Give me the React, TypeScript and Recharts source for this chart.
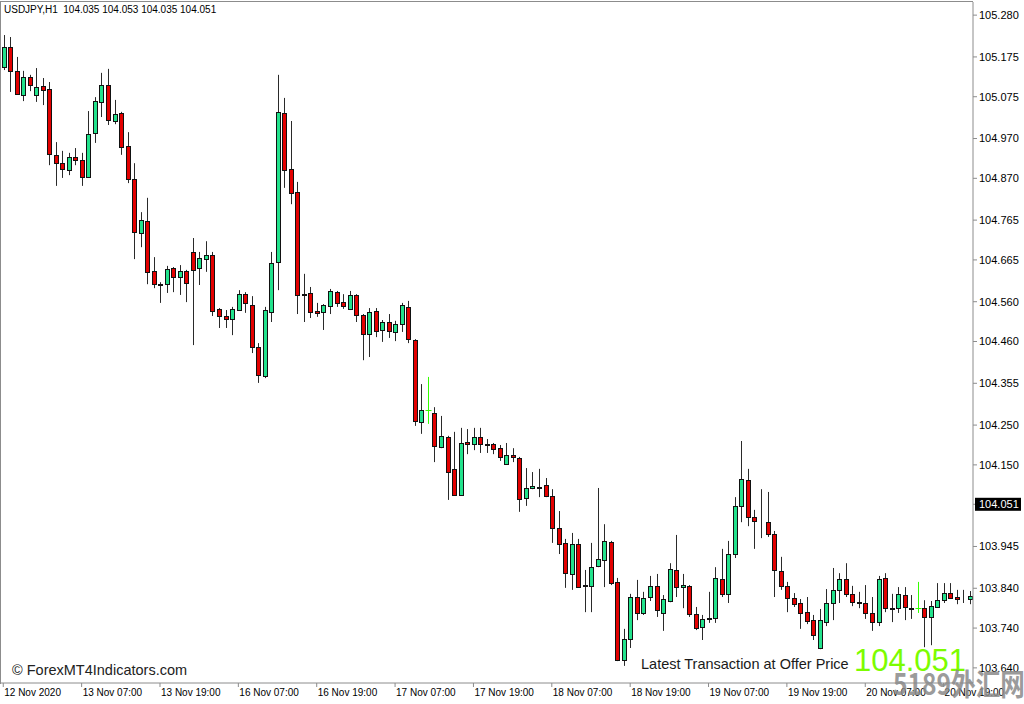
import React from 'react';
import { ComposedChart, Bar, XAxis, YAxis } from 'recharts';

// USDJPY H1, one entry per candle, left to right
const opens = [
  105.150, 105.200, 105.140, 105.079, 105.125, 105.079, 105.102, 105.094, 104.929, 104.908,
  104.891, 104.924, 104.916, 104.873, 104.984, 105.062, 105.104, 105.014, 105.034, 104.951,
  104.868, 104.733, 104.763, 104.637, 104.604, 104.604, 104.645, 104.622, 104.637, 104.685,
  104.645, 104.667, 104.677, 104.542, 104.524, 104.516, 104.539, 104.579, 104.552, 104.446,
  104.373, 104.534, 104.660, 105.034, 104.893, 104.836, 104.579, 104.582, 104.537, 104.534,
  104.549, 104.584, 104.559, 104.542, 104.577, 104.527, 104.479, 104.537, 104.489, 104.509,
  104.484, 104.504, 104.547, 104.464, 104.258, 104.288, 104.280, 104.195, 104.220, 104.140,
  104.074, 104.207, 104.202, 104.220, 104.202, 104.202, 104.192, 104.152, 104.175, 104.167,
  104.067, 104.092, 104.094, 104.099, 104.072, 103.991, 103.954, 103.876, 103.951, 103.846,
  103.846, 103.896, 103.911, 103.956, 103.856, 103.660, 103.713, 103.818, 103.778, 103.818,
  103.846, 103.778, 103.808, 103.886, 103.843, 103.846, 103.775, 103.743, 103.765, 103.765,
  103.863, 103.826, 103.926, 104.047, 104.112, 104.019, 104.009, 104.006, 103.976, 103.883,
  103.846, 103.816, 103.803, 103.780, 103.760, 103.690, 103.755, 103.803, 103.836, 103.863,
  103.826, 103.805, 103.803, 103.778, 103.755, 103.866, 103.790, 103.790, 103.823, 103.790,
  103.790, 103.790, 103.768, 103.793, 103.810, 103.828, 103.818, 103.813, 103.813,
];
const highs = [
  105.230, 105.225, 105.175, 105.140, 105.130, 105.147, 105.122, 105.112, 104.961, 104.939,
  104.934, 104.946, 104.934, 105.039, 105.074, 105.135, 105.145, 105.067, 105.037, 104.986,
  104.908, 104.785, 104.821, 104.672, 104.609, 104.650, 104.647, 104.652, 104.640, 104.720,
  104.685, 104.712, 104.685, 104.544, 104.539, 104.547, 104.589, 104.584, 104.574, 104.456,
  104.547, 104.685, 105.130, 105.072, 105.014, 104.861, 104.630, 104.597, 104.557, 104.554,
  104.592, 104.587, 104.579, 104.587, 104.579, 104.529, 104.544, 104.544, 104.514, 104.529,
  104.512, 104.557, 104.562, 104.466, 104.353, 104.371, 104.295, 104.273, 104.223, 104.233,
  104.243, 104.240, 104.243, 104.243, 104.215, 104.205, 104.200, 104.205, 104.192, 104.170,
  104.142, 104.132, 104.140, 104.117, 104.089, 104.034, 103.964, 103.979, 103.964, 103.886,
  103.954, 104.092, 104.001, 103.959, 103.866, 103.738, 103.826, 103.861, 103.831, 103.871,
  103.876, 103.823, 103.903, 103.974, 103.876, 103.848, 103.793, 103.773, 103.831, 103.893,
  103.939, 103.959, 104.069, 104.210, 104.140, 104.037, 104.089, 104.082, 103.984, 103.919,
  103.856, 103.828, 103.813, 103.818, 103.773, 103.788, 103.838, 103.891, 103.878, 103.903,
  103.846, 103.831, 103.848, 103.818, 103.871, 103.878, 103.826, 103.843, 103.843, 103.823,
  103.856, 103.810, 103.808, 103.853, 103.853, 103.853, 103.836, 103.836, 103.833,
];
const lows = [
  105.142, 105.087, 105.082, 105.064, 105.089, 105.062, 105.054, 104.903, 104.851, 104.871,
  104.878, 104.903, 104.851, 104.871, 104.959, 105.024, 105.004, 105.006, 104.929, 104.858,
  104.667, 104.697, 104.604, 104.594, 104.557, 104.582, 104.584, 104.577, 104.559, 104.451,
  104.602, 104.635, 104.524, 104.494, 104.494, 104.476, 104.537, 104.532, 104.431, 104.356,
  104.368, 104.509, 104.589, 104.846, 104.805, 104.529, 104.509, 104.519, 104.522, 104.489,
  104.529, 104.547, 104.542, 104.539, 104.509, 104.413, 104.421, 104.471, 104.459, 104.469,
  104.461, 104.484, 104.456, 104.248, 104.228, 104.253, 104.157, 104.192, 104.062, 104.072,
  104.072, 104.177, 104.187, 104.180, 104.180, 104.177, 104.160, 104.150, 104.157, 104.032,
  104.047, 104.089, 104.069, 104.069, 103.954, 103.926, 103.841, 103.836, 103.841, 103.780,
  103.780, 103.893, 103.843, 103.848, 103.657, 103.645, 103.690, 103.760, 103.773, 103.808,
  103.768, 103.733, 103.805, 103.818, 103.790, 103.768, 103.735, 103.710, 103.753, 103.753,
  103.818, 103.803, 103.916, 104.006, 103.996, 103.939, 103.966, 103.969, 103.818, 103.836,
  103.780, 103.793, 103.738, 103.750, 103.710, 103.687, 103.745, 103.760, 103.803, 103.818,
  103.795, 103.790, 103.763, 103.733, 103.745, 103.780, 103.755, 103.778, 103.760, 103.763,
  103.778, 103.692, 103.697, 103.793, 103.803, 103.813, 103.800, 103.803, 103.800,
];
const closes = [
  105.200, 105.140, 105.083, 105.125, 105.104, 105.099, 105.092, 104.931, 104.908, 104.893,
  104.924, 104.916, 104.873, 104.981, 105.064, 105.104, 105.016, 105.032, 104.949, 104.868,
  104.735, 104.765, 104.635, 104.604, 104.602, 104.642, 104.622, 104.637, 104.607, 104.640,
  104.670, 104.677, 104.537, 104.524, 104.516, 104.542, 104.579, 104.557, 104.446, 104.376,
  104.539, 104.657, 105.037, 104.891, 104.833, 104.577, 104.577, 104.534, 104.532, 104.552,
  104.587, 104.557, 104.549, 104.577, 104.527, 104.479, 104.534, 104.486, 104.509, 104.486,
  104.504, 104.552, 104.466, 104.260, 104.288, 104.288, 104.197, 104.223, 104.132, 104.074,
  104.205, 104.202, 104.220, 104.202, 104.201, 104.190, 104.170, 104.175, 104.170, 104.064,
  104.092, 104.097, 104.093, 104.072, 103.991, 103.951, 103.878, 103.951, 103.843, 103.848,
  103.893, 103.914, 103.959, 103.853, 103.660, 103.713, 103.818, 103.778, 103.816, 103.846,
  103.785, 103.813, 103.888, 103.843, 103.848, 103.775, 103.740, 103.763, 103.764, 103.866,
  103.826, 103.926, 104.047, 104.115, 104.019, 104.009, 104.008, 103.976, 103.886, 103.846,
  103.816, 103.800, 103.778, 103.758, 103.723, 103.760, 103.803, 103.836, 103.863, 103.826,
  103.805, 103.804, 103.778, 103.755, 103.863, 103.790, 103.789, 103.826, 103.793, 103.788,
  103.790, 103.768, 103.795, 103.810, 103.828, 103.816, 103.813, 103.812, 103.821,
];

const timeTickIdx = [0, 12, 24, 36, 48, 60, 72, 84, 96, 108, 120, 132, 144];
const timeTickLabels = [
  '12 Nov 2020', '13 Nov 07:00', '13 Nov 19:00', '16 Nov 07:00', '16 Nov 19:00',
  '17 Nov 07:00', '17 Nov 19:00', '18 Nov 07:00', '18 Nov 19:00', '19 Nov 07:00',
  '19 Nov 19:00', '20 Nov 07:00', '20 Nov 19:00',
];
const priceTicks = [
  105.28, 105.175, 105.075, 104.97, 104.87, 104.765, 104.665, 104.56, 104.46,
  104.355, 104.25, 104.15, 104.051, 103.945, 103.84, 103.74, 103.64,
];
const lastPrice = 104.051;
const priceDomain = [103.602, 105.313];

const rows = opens.map((o, i) => ({
  i,
  open: o,
  high: highs[i],
  low: lows[i],
  close: closes[i],
}));

const UP = '#22E28C';
const DOWN = '#E30000';
const DOJI = '#33FF00';
const WICK = '#2a2a2a';
const AXIS = '#8c8c8c';
const FONT = '"Liberation Sans", Arial, sans-serif';

const Candle = (props: any) => {
  const { x, y, width, height, payload } = props;
  if (!payload) return null;
  const { open, close, high, low } = payload;
  const top = Math.min(y, y + height);
  const span = Math.abs(height);
  const k = high > low ? span / (high - low) : 0;
  const py = (v: number) => top + (high - v) * k;
  const cx = Math.round(x + width / 2) + 0.5;

  if (open === close) {
    const yc = Math.round(py(open)) + 0.5;
    return (
      <g>
        <line x1={cx} x2={cx} y1={top} y2={top + span} stroke={DOJI} strokeWidth={1} />
        <line x1={cx - 3} x2={cx + 3} y1={yc} y2={yc} stroke={DOJI} strokeWidth={1} />
      </g>
    );
  }
  const bTop = Math.round(py(Math.max(open, close))) + 0.5;
  const bBot = Math.max(Math.round(py(Math.min(open, close))) + 0.5, bTop);
  const fill = close > open ? UP : DOWN;
  return (
    <g>
      <line x1={cx} x2={cx} y1={top} y2={top + span} stroke={WICK} strokeWidth={1} />
      <rect x={cx - 2} y={bTop} width={4} height={bBot - bTop} fill={fill} stroke="#111" strokeWidth={1} />
    </g>
  );
};

const TimeTick = (props: any) => {
  const { x, y, payload } = props;
  const n = timeTickIdx.indexOf(payload.value);
  return (
    <text x={x + 1} y={y} dy="0.71em" textAnchor="start" fontSize={10} fontFamily={FONT} fill="#000">
      {n >= 0 ? timeTickLabels[n] : ''}
    </text>
  );
};

const PriceTick = (props: any) => {
  const { x, y, payload } = props;
  const v = payload.value;
  if (v === lastPrice) {
    return (
      <g>
        <rect x={x - 4} y={y - 6.5} width={46} height={13} fill="#000" />
        <text x={x} y={y} dy="0.36em" fontSize={11} fontFamily={FONT} fill="#fff">
          {v.toFixed(3)}
        </text>
      </g>
    );
  }
  return (
    <text x={x} y={y} dy="0.36em" fontSize={11} fontFamily={FONT} fill="#000">
      {v.toFixed(3)}
    </text>
  );
};

export default function App() {
  return (
    <div style={{ position: 'absolute', left: 0, top: 0, width: 1024, height: 704, background: '#fff', overflow: 'hidden' }}>
      <ComposedChart
        width={1024}
        height={704}
        data={rows}
        margin={{ top: 2, right: 0, bottom: 0, left: 0 }}
        barCategoryGap={1}
      >
        <XAxis
          dataKey="i"
          type="category"
          ticks={timeTickIdx}
          interval={0}
          height={21}
          tickSize={4}
          tickMargin={2}
          tick={<TimeTick />}
          axisLine={{ stroke: AXIS }}
          tickLine={{ stroke: AXIS }}
        />
        <YAxis
          orientation="right"
          type="number"
          domain={priceDomain}
          allowDataOverflow
          ticks={priceTicks}
          interval={0}
          width={51}
          tickSize={4}
          tickMargin={2}
          tick={<PriceTick />}
          axisLine={{ stroke: AXIS }}
          tickLine={{ stroke: AXIS }}
        />
        <Bar
          dataKey={(d: any) => [d.low, d.high]}
          shape={<Candle />}
          isAnimationActive={false}
        />
      </ComposedChart>

      <div style={{ position: 'absolute', left: 0, top: 1, width: 972, height: 682, borderLeft: `1px solid ${AXIS}`, borderTop: `1px solid ${AXIS}`, pointerEvents: 'none' }} />

      <div style={{ position: 'absolute', left: 4, top: 4, fontFamily: FONT, fontSize: 10, lineHeight: '12px', color: '#000', whiteSpace: 'pre' }}>
        {'USDJPY,H1  104.035 104.053 104.035 104.051'}
      </div>

      <div style={{ position: 'absolute', left: 12, top: 662, fontFamily: FONT, fontSize: 14.5, lineHeight: '16px', color: '#222', whiteSpace: 'nowrap' }}>
        © ForexMT4Indicators.com
      </div>

      <div style={{ position: 'absolute', left: 641, top: 656, fontFamily: FONT, fontSize: 14.5, lineHeight: '16px', color: '#1a1a1a', whiteSpace: 'nowrap' }}>
        Latest Transaction at Offer Price
      </div>

      <div style={{ position: 'absolute', left: 854, top: 645, fontFamily: FONT, fontSize: 31, lineHeight: '31px', color: '#7CFC00', whiteSpace: 'nowrap' }}>
        104.051
      </div>

      <div style={{ position: 'absolute', left: 893, top: 666, fontFamily: '"Noto Sans CJK SC", sans-serif', fontWeight: 700, fontSize: 30, lineHeight: '32px', color: '#8a8a8a', opacity: 0.85, whiteSpace: 'nowrap', transform: 'scaleX(0.82)', transformOrigin: 'left top' }}>
        5189外汇网
      </div>
    </div>
  );
}
